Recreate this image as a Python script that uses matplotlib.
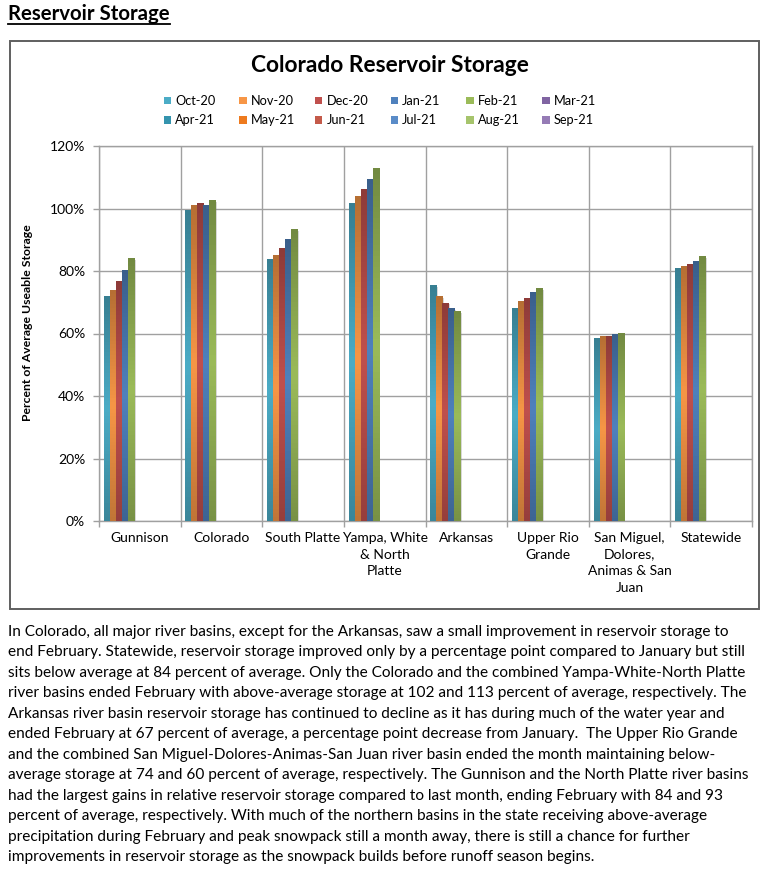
import matplotlib
matplotlib.use("Agg")
import matplotlib.pyplot as plt
import numpy as np
from matplotlib.colors import LinearSegmentedColormap, to_rgb
from matplotlib.patches import Rectangle
from matplotlib.lines import Line2D
from matplotlib.ticker import PercentFormatter, FixedLocator

plt.rcParams["font.family"] = ["Lato", "DejaVu Sans"]

W, H = 768, 873

basins = [
    "Gunnison",
    "Colorado",
    "South Platte",
    "Yampa, White\n& North\nPlatte",
    "Arkansas",
    "Upper Rio\nGrande",
    "San Miguel,\nDolores,\nAnimas & San\nJuan",
    "Statewide",
]

months = [
    "Oct-20", "Nov-20", "Dec-20", "Jan-21", "Feb-21", "Mar-21",
    "Apr-21", "May-21", "Jun-21", "Jul-21", "Aug-21", "Sep-21",
]
colors = [
    "#4BACC6", "#F79646", "#C0504D", "#4F81BD", "#9BBB59", "#8064A2",
    "#3494AE", "#EE7A1E", "#C45A4A", "#5A8CC8", "#A6C46C", "#957BB5",
]

# percent of average useable storage (fraction), only Oct-20 .. Feb-21 reported
oct_20 = [0.718, 0.995, 0.838, 1.017, 0.753, 0.679, 0.583, 0.809]
nov_20 = [0.739, 1.009, 0.849, 1.040, 0.718, 0.701, 0.590, 0.814]
dec_20 = [0.768, 1.016, 0.872, 1.060, 0.697, 0.713, 0.592, 0.822]
jan_21 = [0.801, 1.009, 0.901, 1.093, 0.679, 0.731, 0.597, 0.831]
feb_21 = [0.840, 1.026, 0.933, 1.127, 0.671, 0.744, 0.601, 0.845]
series = [oct_20, nov_20, dec_20, jan_21, feb_21]

paragraph = [
    "In Colorado, all major river basins, except for the Arkansas, saw a small improvement in reservoir storage to",
    "end February. Statewide, reservoir storage improved only by a percentage point compared to January but still",
    "sits below average at 84 percent of average. Only the Colorado and the combined Yampa-White-North Platte",
    "river basins ended February with above-average storage at 102 and 113 percent of average, respectively. The",
    "Arkansas river basin reservoir storage has continued to decline as it has during much of the water year and",
    "ended February at 67 percent of average, a percentage point decrease from January.  The Upper Rio Grande",
    "and the combined San Miguel-Dolores-Animas-San Juan river basin ended the month maintaining below-",
    "average storage at 74 and 60 percent of average, respectively. The Gunnison and the North Platte river basins",
    "had the largest gains in relative reservoir storage compared to last month, ending February with 84 and 93",
    "percent of average, respectively. With much of the northern basins in the state receiving above-average",
    "precipitation during February and peak snowpack still a month away, there is still a chance for further",
    "improvements in reservoir storage as the snowpack builds before runoff season begins.",
]


def fx(x):
    return x / W


def fy(y):
    return 1 - y / H


def shade(c, f):
    r, g, b = to_rgb(c)
    return (r * f, g * f, b * f)


fig = plt.figure(figsize=(W / 100, H / 100), dpi=100)

# chart frame
fig.patches.append(Rectangle((fx(10), fy(609)), fx(759) - fx(10), fy(41) - fy(609),
                             transform=fig.transFigure, fill=False,
                             edgecolor="#5f5f5f", linewidth=1.4, zorder=0))

ax = fig.add_axes([fx(99), fy(521), fx(752) - fx(99), fy(146) - fy(521)])

x = np.arange(len(basins))
w = 6 / 81.6
for j, vals in enumerate(series):
    c = colors[j]
    pos = x + (j - 5.5) * w
    # soft shadow
    ax.bar(pos + 0.022, np.array(vals) - 0.004, w, color="#808080", alpha=0.3,
           linewidth=0, zorder=2.5)
    bars = ax.bar(pos, vals, w, color=c, linewidth=0, zorder=3)
    cmap = LinearSegmentedColormap.from_list("g", [shade(c, 0.78), c, shade(c, 0.74)])
    for b in bars:
        x0 = b.get_x()
        ax.imshow(np.linspace(0, 1, 64).reshape(-1, 1), cmap=cmap, origin="lower",
                  extent=(x0, x0 + w, 0, b.get_height()), aspect="auto",
                  zorder=3.1, clip_path=b)

ax.set_xlim(-0.5, len(basins) - 0.5)
ax.set_ylim(0, 1.2)
ax.set_yticks(np.arange(0, 1.21, 0.2))
ax.yaxis.set_major_formatter(PercentFormatter(1.0, decimals=0))
ax.set_xticks(x, basins)
ax.xaxis.set_minor_locator(FixedLocator(np.arange(-0.5, len(basins), 1.0)))
ax.tick_params(axis="x", which="major", length=0, pad=8, labelsize=10)
ax.tick_params(axis="x", which="minor", length=4, color="#a0a0a0", width=1)
ax.tick_params(axis="y", length=4, color="#a0a0a0", width=1, pad=6, labelsize=10)
for lbl in ax.get_xticklabels():
    lbl.set_linespacing(1.45)
ax.grid(axis="y", which="major", color="#a0a0a0", linewidth=1)
ax.grid(axis="x", which="minor", color="#a0a0a0", linewidth=1)
ax.set_axisbelow(True)
for s in ax.spines.values():
    s.set_color("#a0a0a0")
    s.set_linewidth(1)

ax.set_ylabel("Percent of Average Useable Storage", fontsize=8.8, fontweight="bold")
ax.yaxis.set_label_coords((33 - 99) / 653, (521 - 323) / 375)

fig.text(fx(390), fy(65), "Colorado Reservoir Storage", ha="center", va="center",
         fontsize=16.4, fontweight="bold")

# legend, two rows of six
for j, name in enumerate(months):
    col, row = j % 6, j // 6
    lx = 163.5 + col * 75.7
    ly = 100.7 + row * 19.3
    fig.patches.append(Rectangle((fx(lx), fy(ly + 3.6)), 7.5 / W, 7.2 / H,
                                 transform=fig.transFigure, facecolor=colors[j],
                                 edgecolor="none"))
    fig.text(fx(lx + 11.5), fy(ly), name, ha="left", va="center", fontsize=9.2)

# heading with underline
head = fig.text(fx(8), fy(14), "Reservoir Storage", ha="left", va="center",
                fontsize=14.7, fontweight="bold")
fig.canvas.draw()
bb = head.get_window_extent(fig.canvas.get_renderer())
fig.lines.append(Line2D([bb.x0 / W, bb.x1 / W], [fy(24), fy(24)],
                        transform=fig.transFigure, color="black", linewidth=1.3))

for i, line in enumerate(paragraph):
    fig.text(fx(8), fy(632 + i * 20.45), line, ha="left", va="center", fontsize=11.1)

fig.savefig("out.png", dpi=100)
